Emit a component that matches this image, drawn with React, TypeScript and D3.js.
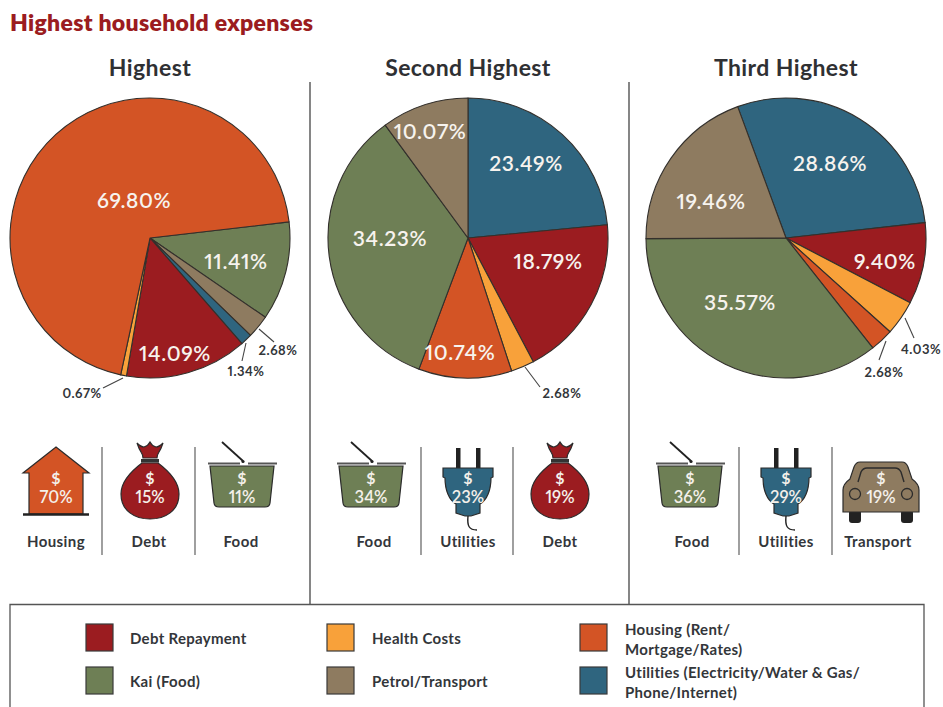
import React from "react";
import * as d3 from "d3";

const WIDTH = 943;
const HEIGHT = 707;
const FONT = "Lato, 'Open Sans', sans-serif";
const INK = "#33363a";

const COLORS: Record<string, string> = {
  debt: "#9b1c20",
  health: "#f8a13a",
  housing: "#d35425",
  food: "#6e7f55",
  transport: "#8e7b60",
  utilities: "#2f657f",
};

// Slices, clockwise in drawing order
const highestKeys = ["food", "transport", "utilities", "debt", "health", "housing"];
const highestValues = [11.41, 2.68, 1.34, 14.09, 0.67, 69.8];
const secondKeys = ["utilities", "debt", "health", "housing", "food", "transport"];
const secondValues = [23.49, 18.79, 2.68, 10.74, 34.23, 10.07];
const thirdKeys = ["utilities", "debt", "health", "housing", "food", "transport"];
const thirdValues = [28.86, 9.4, 4.03, 2.68, 35.57, 19.46];

const panelTitles = ["Highest", "Second Highest", "Third Highest"];

// Layout for slice labels, relative to the pie centre; leader = [x1,y1,x2,y2]
type Lab = { dx: number; dy: number; leader?: number[]; small?: boolean };
const highestLabels: Lab[] = [
  { dx: 86, dy: 22 },
  { dx: 128, dy: 112, small: true, leader: [109, 91, 124, 104] },
  { dx: 96, dy: 133, small: true, leader: [96, 105, 92, 123] },
  { dx: 25, dy: 114 },
  { dx: -68, dy: 155, small: true, leader: [-27, 140, -47, 150] },
  { dx: -16, dy: -39 },
];
const secondLabels: Lab[] = [
  { dx: 58, dy: -76 },
  { dx: 80, dy: 22 },
  { dx: 94, dy: 155, small: true, leader: [57, 129, 72, 149] },
  { dx: -8, dy: 113 },
  { dx: -78, dy: -1 },
  { dx: -38, dy: -108 },
];
const thirdLabels: Lab[] = [
  { dx: 44, dy: -76 },
  { dx: 99, dy: 22 },
  { dx: 135, dy: 111, small: true, leader: [119, 80, 128, 100] },
  { dx: 98, dy: 134, small: true, leader: [100, 103, 93, 122] },
  { dx: -46, dy: 63 },
  { dx: -75, dy: -38 },
];

const pies = [
  { cx: 150, keys: highestKeys, values: highestValues, labels: highestLabels, start: 83.4 },
  { cx: 468, keys: secondKeys, values: secondValues, labels: secondLabels, start: 0 },
  { cx: 786, keys: thirdKeys, values: thirdValues, labels: thirdLabels, start: -20.2 },
];
const PIE_CY = 238;
const PIE_R = 140;

// Icon row
type IconKind = "house" | "bag" | "basket" | "plug" | "car";
const iconKinds: IconKind[] = ["house", "bag", "basket", "basket", "plug", "bag", "basket", "plug", "car"];
const iconPercents = ["70%", "15%", "11%", "34%", "23%", "19%", "36%", "29%", "19%"];
const iconNames = ["Housing", "Debt", "Food", "Food", "Utilities", "Debt", "Food", "Utilities", "Transport"];
const iconCenters = [56, 150, 242, 371, 468, 560, 690, 786, 881];
const nameCenters = [56, 149, 241, 374, 468, 560, 692, 786, 878];
const rowDividers = [102, 195, 421, 513, 739, 832];

const legendItems = [
  { key: "debt", lines: ["Debt Repayment"], x: 86, y: 624 },
  { key: "health", lines: ["Health Costs"], x: 327, y: 624 },
  { key: "housing", lines: ["Housing (Rent/", "Mortgage/Rates)"], x: 580, y: 624 },
  { key: "food", lines: ["Kai (Food)"], x: 86, y: 667 },
  { key: "transport", lines: ["Petrol/Transport"], x: 327, y: 667 },
  { key: "utilities", lines: ["Utilities (Electricity/Water & Gas/", "Phone/Internet)"], x: 580, y: 667 },
];

const PROPORTIONAL = { fontVariantNumeric: "proportional-nums" } as const;

function Icon({ kind, cx }: { kind: IconKind; cx: number }) {
  const s = { stroke: "#2b2b2b", strokeWidth: 1.2 };
  if (kind === "house")
    return (
      <g transform={`translate(${cx},0)`}>
        <path d="M0,447 L33,473 L27,473 L27,514 L-27,514 L-27,473 L-33,473 Z" fill={COLORS.housing} {...s} />
        <line x1={-33} x2={33} y1={514.5} y2={514.5} stroke="#222" strokeWidth={2.4} />
      </g>
    );
  if (kind === "bag")
    return (
      <g transform={`translate(${cx},0)`}>
        <path d="M-13,443 Q-9,447 -6,447 Q-2,446 0,442 Q2,446 6,447 Q9,447 13,443 Q11,449 9,452 Q7,455 7,458 L-7,458 Q-7,455 -9,452 Q-11,449 -13,443 Z" fill={COLORS.debt} {...s} />
        <rect x={-9} y={459} width={18} height={3.5} fill="#333" />
        <path d="M-8,463 L8,463 C20,472 29,482 29,494 C29,511 15,519 0,519 C-15,519 -29,511 -29,494 C-29,482 -20,472 -8,463 Z" fill={COLORS.debt} {...s} />
      </g>
    );
  if (kind === "basket")
    return (
      <g transform={`translate(${cx},0)`}>
        <path d="M-32,466 L32,466 L28,503 Q27.5,507 23,507 L-23,507 Q-27.5,507 -28,503 Z" fill={COLORS.food} {...s} />
        <line x1={-34} x2={-2} y1={463.5} y2={463.5} stroke="#555" strokeWidth={2} />
        <line x1={6} x2={35} y1={463.5} y2={463.5} stroke="#555" strokeWidth={2} />
        <line x1={-20} y1={442} x2={1} y2={461} stroke="#222" strokeWidth={1.8} />
        <circle cx={1} cy={461.5} r={1.6} fill="#222" />
      </g>
    );
  if (kind === "plug")
    return (
      <g transform={`translate(${cx},0)`}>
        <rect x={-12} y={448} width={4.5} height={20} fill="#222" />
        <rect x={8} y={448} width={4.5} height={20} fill="#222" />
        <path d="M-25,468 L25,468 L25,477 L23,478 C23,490 19,500 12,504 L12,513 L3,516 L-3,516 L-12,513 L-12,504 C-19,500 -23,490 -23,478 L-25,477 Z" fill={COLORS.utilities} {...s} />
        <path d="M0,516 C-1,526 1,530 9,530" fill="none" stroke="#222" strokeWidth={1.4} />
      </g>
    );
  return (
    <g transform={`translate(${cx},0)`}>
      <rect x={-32} y={510} width={12} height={13} rx={3} fill="#222" />
      <rect x={20} y={510} width={12} height={13} rx={3} fill="#222" />
      <path d="M-21,462 L21,462 Q25,462 27,467 L31,479 Q38,484 38,490 L38,512 L-38,512 L-38,490 Q-38,484 -31,479 L-27,467 Q-25,462 -21,462 Z" fill={COLORS.transport} {...s} />
      <path d="M-23,482 L-20,472 Q-18,468 -14,468 L14,468 Q18,468 20,472 L23,482" fill="none" stroke="#2b2b2b" strokeWidth={1.4} />
      <circle cx={-26} cy={494} r={5.5} fill="none" stroke="#2b2b2b" strokeWidth={1.3} />
      <circle cx={26} cy={494} r={5.5} fill="none" stroke="#2b2b2b" strokeWidth={1.3} />
    </g>
  );
}

function Pie({ cx, keys, values, labels, start }: (typeof pies)[number]) {
  const s = (start * Math.PI) / 180;
  const arcs = d3.pie<number>().sort(null).startAngle(s).endAngle(s + 2 * Math.PI)(values);
  const arc = d3.arc<d3.PieArcDatum<number>>().innerRadius(0).outerRadius(PIE_R);
  return (
    <g transform={`translate(${cx},${PIE_CY})`}>
      {arcs.map((a, i) => (
        <path key={i} d={arc(a) ?? ""} fill={COLORS[keys[i]]} stroke="#33302c" strokeWidth={1.1} strokeLinejoin="round" />
      ))}
      {labels.map((l, i) => (
        <g key={i}>
          {l.leader && (
            <line x1={l.leader[0]} y1={l.leader[1]} x2={l.leader[2]} y2={l.leader[3]} stroke="#444" strokeWidth={1.1} />
          )}
          <text
            x={l.dx}
            y={l.dy}
            textAnchor="middle"
            dominantBaseline="central"
            fontFamily={FONT}
            fontWeight={l.small ? 700 : 600}
            fontSize={l.small ? 13 : 21}
            letterSpacing={l.small ? 0.5 : 0.6}
            fill={l.small ? INK : "#f7f3ee"}
            style={PROPORTIONAL}
          >
            {values[i].toFixed(2)}%
          </text>
        </g>
      ))}
    </g>
  );
}

export default function App() {
  return (
    <svg
      width={WIDTH}
      height={HEIGHT}
      viewBox={`0 0 ${WIDTH} ${HEIGHT}`}
      style={{ position: "absolute", left: 0, top: 0, display: "block", background: "#fff" }}
    >
      <text x={10} y={31} fontFamily={FONT} fontWeight={800} fontSize={23} letterSpacing={0.3} fill="#9b1c20">
        Highest household expenses
      </text>
      {panelTitles.map((t, i) => (
        <text key={t} x={pies[i].cx} y={76} textAnchor="middle" fontFamily={FONT} fontWeight={700} fontSize={23} letterSpacing={0.4} fill="#2f3033">
          {t}
        </text>
      ))}
      <line x1={310} x2={310} y1={82} y2={604} stroke="#444" strokeWidth={1.3} />
      <line x1={629} x2={629} y1={82} y2={604} stroke="#444" strokeWidth={1.3} />

      {pies.map((p) => (
        <Pie key={p.cx} {...p} />
      ))}

      {rowDividers.map((x) => (
        <line key={x} x1={x} x2={x} y1={447} y2={555} stroke="#777" strokeWidth={1.4} />
      ))}
      {iconKinds.map((k, i) => (
        <g key={i}>
          <Icon kind={k} cx={iconCenters[i]} />
          <text x={iconCenters[i]} y={484} textAnchor="middle" fontFamily={FONT} fontWeight={700} fontSize={16} fill="#f4f0ea">
            $
          </text>
          <text x={iconCenters[i]} y={503} textAnchor="middle" fontFamily={FONT} fontWeight={600} fontSize={16.5} fill="#f4f0ea" style={PROPORTIONAL}>
            {iconPercents[i]}
          </text>
          <text x={nameCenters[i]} y={547} textAnchor="middle" fontFamily={FONT} fontWeight={700} fontSize={15} letterSpacing={0.4} fill={INK}>
            {iconNames[i]}
          </text>
        </g>
      ))}

      <path d={`M10,708 L10,604.5 L924,604.5 L924,708`} fill="none" stroke="#555" strokeWidth={1.3} />
      {legendItems.map((it) => (
        <g key={it.key}>
          <rect x={it.x} y={it.y} width={27} height={27} fill={COLORS[it.key]} stroke="#3a3a3a" strokeWidth={1.2} />
          {it.lines.map((ln, j) => (
            <text
              key={j}
              x={it.x + (it.x === 86 ? 44 : 45)}
              y={it.y + 14 + (it.lines.length === 2 ? (j === 0 ? -9.5 : 10.5) : 0)}
              dominantBaseline="central"
              fontFamily={FONT}
              fontWeight={700}
              fontSize={15}
              letterSpacing={0.3}
              fill={INK}
            >
              {ln}
            </text>
          ))}
        </g>
      ))}
    </svg>
  );
}
